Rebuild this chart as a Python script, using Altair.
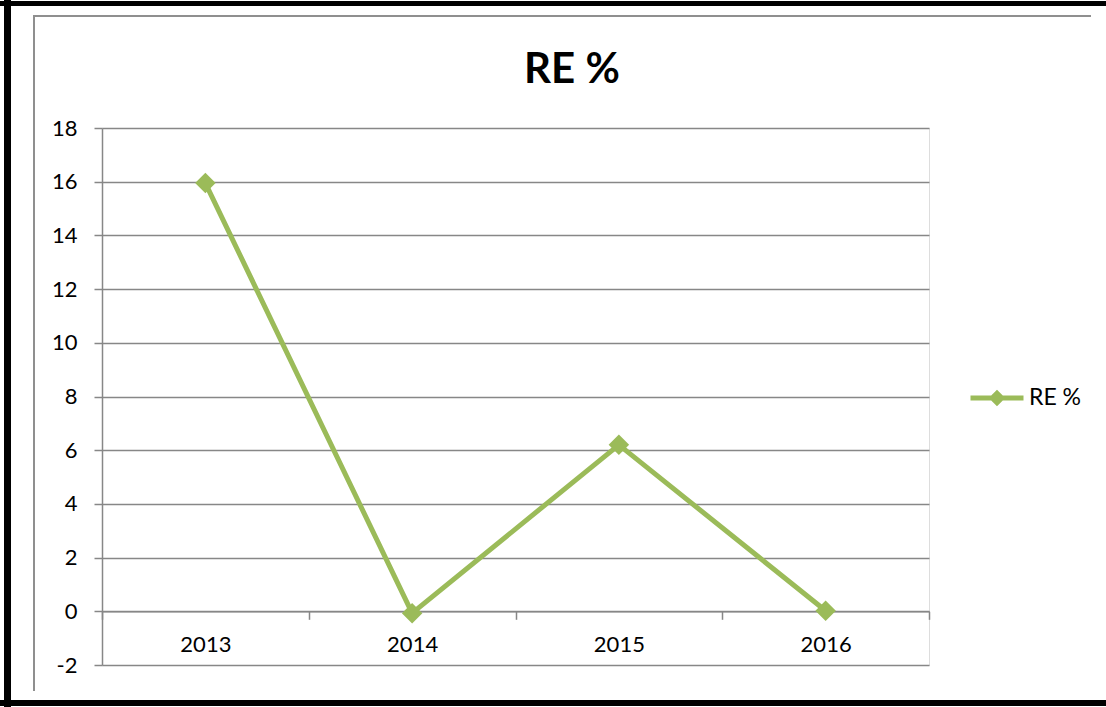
import altair as alt
import pandas as pd

# ---- data ----
years = ["2013", "2014", "2015", "2016"]
re_pct = [15.95, -0.07, 6.2, 0.02]
series = ["RE %", "RE %", "RE %", "RE %"]
y_ticks = [-2, 0, 2, 4, 6, 8, 10, 12, 14, 16, 18]
title_text = ["RE %"]

df = pd.DataFrame({"Year": years, "RE": re_pct, "Series": series})
one = pd.DataFrame({"k": [0]})
title_df = pd.DataFrame({"t": title_text})

GREEN = "#9BBB59"
GRAY = "#878787"
FONT = "Lato"

W, H = 827, 537
PAD_L, PAD_T = 102, 128
PAD_R = 1106 - PAD_L - W
PAD_B = 707 - PAD_T - H

x_enc = alt.X(
    "Year:N", sort=years, bandPosition=0.5,
    scale=alt.Scale(type="band", paddingInner=0, paddingOuter=0),
    axis=alt.Axis(title=None, offset=-53.7, tickBand="extent", tickSize=8,
                  labelAngle=0, labelFontSize=22, labelFont=FONT, labelColor="black",
                  labelPadding=15, domainColor=GRAY, tickColor=GRAY,
                  domainWidth=1.5, tickWidth=1.5, grid=False),
)
y_enc = alt.Y(
    "RE:Q",
    scale=alt.Scale(domain=[-2, 18], nice=False, zero=False),
    axis=alt.Axis(title=None, values=y_ticks, tickSize=8, labelFontSize=22,
                  labelFont=FONT, labelColor="black", labelPadding=17,
                  domainColor=GRAY, tickColor=GRAY, gridColor=GRAY,
                  domainWidth=1.5, tickWidth=1.5, gridWidth=1.5,
                  labelExpr="datum.value + ''"),
)

legend_path = ("M-1,0L1,0"
               "M0,-0.18L0.18,0L0,0.18L-0.18,0Z"
               "M0,-0.09L0.09,0L0,0.09L-0.09,0Z")

line = alt.Chart(df).mark_line(strokeWidth=5, strokeCap="round", strokeJoin="round").encode(
    x=x_enc, y=y_enc,
    color=alt.Color("Series:N", scale=alt.Scale(range=[GREEN]),
                    legend=alt.Legend(title=None, orient="none", legendX=866, legendY=241,
                                      symbolType=legend_path, symbolSize=2809,
                                      symbolStrokeWidth=5, symbolStrokeColor=GREEN,
                                      labelFontSize=23, labelFont=FONT,
                                      labelColor="black", labelOffset=3)),
)
points = alt.Chart(df).mark_point(shape="diamond", filled=True, size=420,
                                  color=GREEN, opacity=1).encode(x=x_enc, y=y_enc)

title = alt.Chart(title_df).mark_text(
    font=FONT, fontSize=42, fontWeight="bold", color="black",
    align="center", baseline="alphabetic",
).encode(text="t:N", x=alt.value(572 - PAD_L), y=alt.value(83 - PAD_T))

# ---- decorative frame (black outer, gray inner) ----
def rect(x, x2, y, y2, color):
    return alt.Chart(one).mark_rect(color=color).encode(
        x=alt.value(x), x2=alt.value(x2), y=alt.value(y), y2=alt.value(y2))

frame = [
    rect(-PAD_L, 1106 - PAD_L, -PAD_T + 1, -PAD_T + 6, "black"),
    rect(-PAD_L + 4, -PAD_L + 11, -PAD_T, 707 - PAD_T, "black"),
    rect(-PAD_L, 1106 - PAD_L, 700 - PAD_T, 706 - PAD_T, "black"),
    rect(34 - PAD_L, 1091 - PAD_L, 15 - PAD_T, 17 - PAD_T, "#8f8f8f"),
    rect(33 - PAD_L, 35 - PAD_L, 15 - PAD_T, 691 - PAD_T, "#8f8f8f"),
]

chart = alt.layer(line, points, title, *frame).properties(
    width=W, height=H,
    padding={"left": PAD_L, "top": PAD_T, "right": PAD_R, "bottom": PAD_B},
    autosize=alt.AutoSizeParams(type="none"),
).configure_view(stroke=None).configure(background="white")

chart.save("out.html", embed_options={"renderer": "svg", "actions": False})
